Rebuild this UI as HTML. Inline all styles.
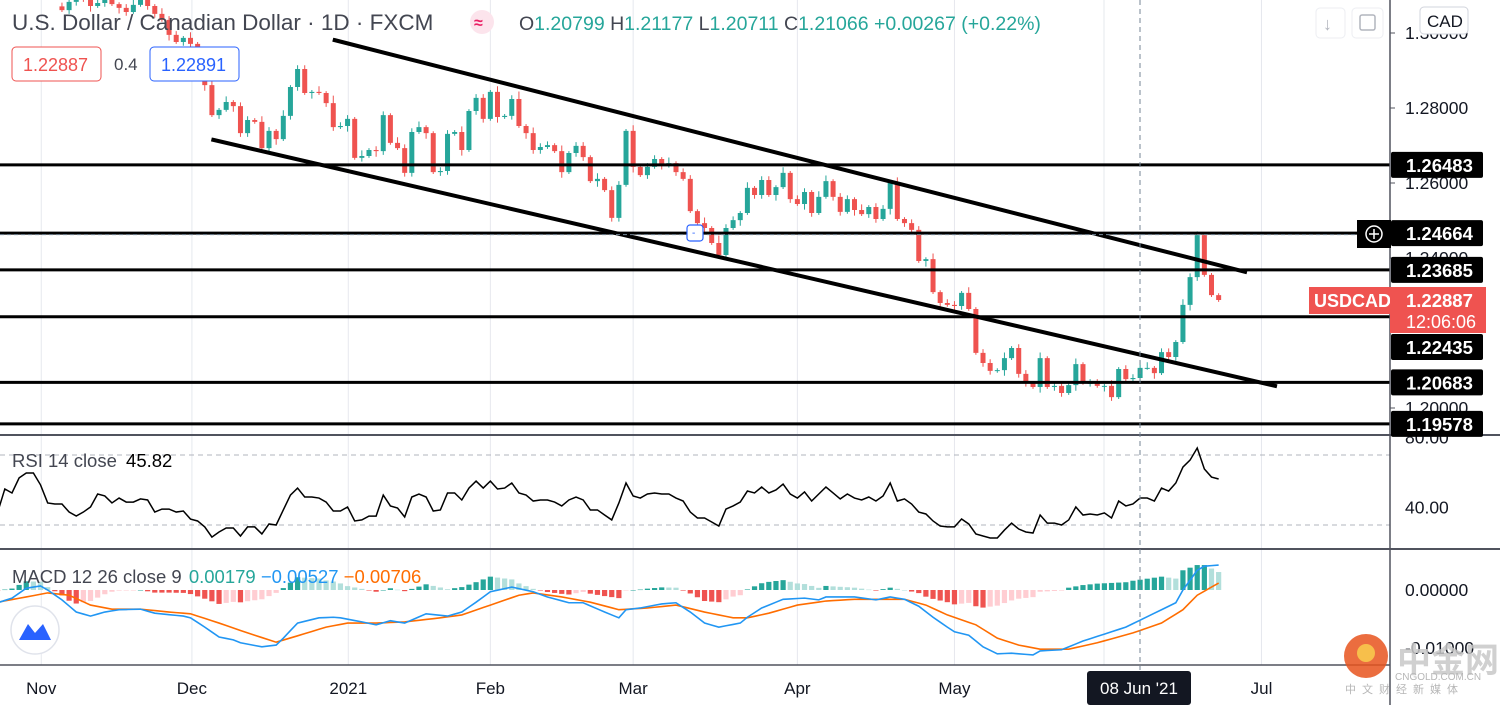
<!DOCTYPE html>
<html><head><meta charset="utf-8"><style>
html,body{margin:0;padding:0;background:#fff;width:1500px;height:705px;overflow:hidden;font-family:"Liberation Sans","Noto Sans CJK SC",sans-serif;}
svg text{font-family:"Liberation Sans","Noto Sans CJK SC",sans-serif;}
</style></head><body>
<svg id="chart" width="1500" height="705" viewBox="0 0 1500 705" xmlns="http://www.w3.org/2000/svg">
<defs><clipPath id="mainClip"><rect x="0" y="0" width="1390" height="434"/></clipPath>
<clipPath id="rsiClip"><rect x="0" y="437" width="1390" height="111"/></clipPath>
<clipPath id="macdClip"><rect x="0" y="551" width="1390" height="113"/></clipPath></defs>
<rect x="0" y="0" width="1500" height="705" fill="#fff"/>
<g id="grid"></g>
<g id="main" clip-path="url(#mainClip)"></g>
<g id="rsi" clip-path="url(#rsiClip)"></g>
<g id="macd" clip-path="url(#macdClip)"></g>
<g id="axes"></g>
<g id="overlay"></g>
</svg>
<script>
// ---- data ----
const monthLabels = ["Nov","Dec","2021","Feb","Mar","Apr","May","Jul"];
const monthIdx = [6.1,27.2,49.1,69,89,112,134,177];
const priceTicks = [1.30,1.28,1.26,1.24,1.20];
const levels = [1.26483,1.24664,1.23685,1.22435,1.20683,1.19578];
const levelLabels = ["1.26483","1.24664","1.23685","1.22435","1.20683","1.19578"];
const candleStart = 9;
const closes = [1.3061,1.3083,1.3101,1.3088,1.3072,1.3080,1.3093,1.3077,1.3067,1.3056,1.3075,1.3088,1.3072,1.3051,1.3035,1.2995,1.2976,1.2987,1.2971,1.2928,1.2861,
1.2781,1.2795,1.2816,1.2805,1.2733,1.2768,1.2763,1.2693,1.2739,1.2717,
1.2779,1.2856,1.2904,1.2840,1.2843,1.2840,1.2813,1.2749,1.2752,1.2771,
1.2667,1.2672,1.2688,1.2685,1.2781,1.2707,1.2693,1.2627,1.2736,1.2749,
1.2733,1.2629,1.2632,1.2731,1.2736,1.2688,1.2792,1.2827,1.2771,1.2843,
1.2776,1.2779,1.2824,1.2752,1.2733,1.2688,1.2696,1.2701,1.2685,1.2629,
1.2680,1.2699,1.2669,1.2605,1.2611,1.2581,1.2507,1.2595,1.2739,1.2643,
1.2621,1.2643,1.2664,1.2651,1.2653,1.2629,1.2611,1.2525,1.2493,1.2480,
1.2440,1.2408,1.2480,1.2501,1.2520,1.2587,
1.2568,1.2608,1.2568,1.2589,1.2627,1.2557,1.2544,1.2576,1.2520,1.2563,
1.2605,1.2563,1.2523,1.2557,1.2528,1.2517,1.2536,1.2504,1.2531,1.2600,
1.2504,1.2493,1.2475,1.2392,1.2397,1.2309,1.2280,1.2275,1.2272,1.2307,
1.2264,1.2147,1.2120,1.2099,1.2101,1.2133,1.2160,1.2091,1.2067,1.2056,
1.2133,1.2056,1.2059,1.2040,1.2061,1.2117,1.2067,1.2067,1.2059,1.2059,
1.2029,1.2104,1.2077,1.2080,1.2107,1.2107,1.2093,1.2149,1.2136,1.2176,
1.2275,1.2349,1.2461,1.2355,1.2301,1.2288];
const wickUp = "21312213124211322131221312213213122131422131221322311221312213124132213122131221312213122131422131221312213312213122131221312213122131221312213122131224312213221";
const wickDn = "12213121321122131221312132211231221312213121321122131221312213121322113122131221312132211231221312213121321122131221312213121321122131221312213121321122131221321";
const rsiVals = [37.4,50.6,48.3,56.9,59.7,59.7,52.9,42.6,42.0,42.0,37.4,35.1,37.4,40.3,47.7,46.6,42.6,45.4,43.1,43.1,44.9,44.3,37.4,39.1,39.1,37.4,38.0,33.4,32.3,28.9,23.1,26.0,28.3,28.3,23.7,28.9,28.9,24.9,30.6,30.0,38.6,47.1,51.1,46.0,46.0,45.4,43.1,38.0,38.0,40.3,32.3,32.9,35.1,35.1,47.1,40.9,39.7,34.6,46.0,47.7,46.0,38.0,38.6,48.3,48.3,44.3,51.1,55.1,51.1,55.1,50.6,51.1,54.0,48.3,47.1,43.7,44.3,44.3,43.1,40.9,44.3,46.0,44.3,38.6,38.6,35.7,32.9,42.6,54.0,46.6,45.4,47.7,48.3,47.7,47.7,45.4,43.7,37.4,34.0,34.0,31.7,29.4,39.1,40.9,43.1,49.4,48.3,51.7,48.3,50.0,53.4,47.7,45.4,48.9,43.7,47.7,51.7,48.3,44.9,47.7,45.4,44.3,46.0,43.7,46.6,54.0,43.7,44.9,42.0,37.4,36.3,32.3,29.4,28.9,28.9,33.4,30.6,24.9,23.7,22.6,22.6,27.1,31.1,27.7,26.0,25.4,35.7,31.1,31.1,30.0,32.9,40.3,35.7,36.3,35.7,36.9,34.0,43.7,40.9,42.0,45.4,45.4,43.7,51.1,49.4,54.0,63.1,67.1,74.0,62.0,57.4,56.3];
const rsiTicks = [80,40];
const macdIdx = [0,2,4,6,7,9,11,13,15,17,20,22,26,27,29,31,33,34,37,39,40,42,45,47,48,51,53,55,57,60,63,65,67,69,72,75,77,80,82,85,87,88,90,93,95,97,99,101,104,105,107,110,113,115,116,120,123,125,127,129,131,133,134,136,138,140,142,145,146,149,152,155,158,160,162,165,166,168,169,171];
const macdVal = [-22,-14,3,7,0,-17,-38,-45,-38,-34,-33,-40,-45,-48,-64,-81,-86,-91,-98,-95,-83,-57,-48,-47,-48,-55,-60,-53,-57,-41,-45,-38,-21,-3,5,-3,-12,-22,-22,-38,-48,-34,-31,-24,-22,-38,-57,-64,-57,-47,-31,-16,-14,-17,-12,-12,-17,-12,-16,-28,-47,-64,-72,-78,-98,-110,-109,-112,-105,-103,-88,-76,-64,-52,-40,-22,0,34,41,43];
const signalIdx = [0,4,7,10,13,16,20,24,27,31,35,39,42,46,49,53,57,62,65,69,73,75,79,83,87,91,95,99,103,105,108,112,116,120,127,130,133,137,140,143,146,150,154,159,163,166,168,171];
const signalVal = [-21,-12,-5,-9,-26,-33,-33,-38,-41,-57,-74,-90,-79,-64,-57,-57,-55,-48,-43,-26,-9,-5,-12,-21,-34,-31,-26,-38,-48,-48,-40,-26,-19,-16,-16,-26,-43,-60,-83,-95,-102,-102,-91,-74,-57,-34,-9,12];
const macdTicks = [0,-100];
const upperTrend = [[47.2,1.2981],[174.7,1.2363]];
const lowerTrend = [[30.2,1.2715],[178.9,1.2059]];

// ---- scales ----
const X0=-2.3, STEP=7.14;
const xOf = i => X0 + i*STEP;
const py = p => 108 + (1.28 - p)*3750;
const ry = v => 455 + (70 - v)*1.75;
const my = v => 590 - v*0.58;
const NS="http://www.w3.org/2000/svg";
function mk(tag, attrs, parent){const e=document.createElementNS(NS,tag);for(const k in attrs)e.setAttribute(k,attrs[k]);parent.appendChild(e);return e;}
const G=id=>document.getElementById(id);
const grid=G('grid'),main=G('main'),rsi=G('rsi'),macd=G('macd'),axes=G('axes'),ov=G('overlay');

monthIdx.forEach((m,k)=>{const x=xOf(m);const l=mk('line',{x1:x,x2:x,y1:0,y2:665,stroke:'#e6e8ee','stroke-width':1},grid);

});
[1104].forEach(x=>{const l=mk('line',{x1:x,x2:x,y1:0,y2:665,stroke:'#e6e8ee'},grid);

});

closes.forEach((c,k)=>{
  const i=candleStart+k, x=xOf(i);
  const o = k===0 ? c+0.0010 : closes[k-1];
  const up = c>=o, col = up?'#26a69a':'#ef5350';
  const hi = Math.max(o,c) + (+(wickUp[k]||'1'))*0.0005;
  const lo = Math.min(o,c) - (+(wickDn[k]||'1'))*0.0005;
  const g=mk('g',{},main);
  
  
  mk('line',{x1:x,x2:x,y1:py(hi),y2:py(lo),stroke:col,'stroke-width':1},g);
  const yt=py(Math.max(o,c)), h=Math.max(1,py(Math.min(o,c))-yt);
  mk('rect',{x:x-2.5,y:yt,width:5,height:h,fill:col},g);
});
levels.forEach((p,k)=>{const l=mk('line',{x1:0,x2:1390,y1:py(p),y2:py(p),stroke:'#000','stroke-width':3},main);

});
[[upperTrend,'upper-trendline'],[lowerTrend,'lower-trendline']].forEach(([t,n])=>{
 const l=mk('line',{x1:xOf(t[0][0]),y1:py(t[0][1]),x2:xOf(t[1][0]),y2:py(t[1][1]),stroke:'#000','stroke-width':4,'stroke-linecap':'square'},main);
 
 });
const chh=mk('line',{x1:0,x2:1390,y1:py(1.24664)+1.5,y2:py(1.24664)+1.5,stroke:'#758696','stroke-dasharray':'4 3','stroke-width':1},ov);


const chv=mk('line',{x1:1140,x2:1140,y1:0,y2:670,stroke:'#758696','stroke-dasharray':'5 4','stroke-width':1},ov);



mk('line',{x1:0,x2:1390,y1:ry(70),y2:ry(70),stroke:'#b2b5be','stroke-dasharray':'5 4'},rsi);
mk('line',{x1:0,x2:1390,y1:ry(30),y2:ry(30),stroke:'#b2b5be','stroke-dasharray':'5 4'},rsi);
const rp=mk('polyline',{points:rsiVals.map((v,i)=>xOf(i)+','+ry(v)).join(' '),fill:'none',stroke:'#000','stroke-width':1.5},rsi);



function interp(idx,val,i){if(i<=idx[0])return val[0];for(let k=1;k<idx.length;k++){if(i<=idx[k]){const t=(i-idx[k-1])/(idx[k]-idx[k-1]);return val[k-1]+t*(val[k]-val[k-1]);}}return val[val.length-1];}
let prevH=null;
for(let i=0;i<=171;i++){
  const h=interp(macdIdx,macdVal,i)-interp(signalIdx,signalVal,i);
  let col;
  if(h>=0) col=(prevH===null||h>=prevH)?'#26a69a':'#b2dfdb'; else col=(prevH===null||h<=prevH)?'#ef5350':'#ffcdd2';
  prevH=h;
  const y0=my(0), y1=my(h);
  const b=mk('rect',{x:xOf(i)-2.6,y:Math.min(y0,y1),width:5.2,height:Math.max(0.5,Math.abs(y1-y0)),fill:col},macd);
  
  
}
const mp=[],sp=[];
for(let i=0;i<=171;i++){mp.push(xOf(i)+','+my(interp(macdIdx,macdVal,i)));sp.push(xOf(i)+','+my(interp(signalIdx,signalVal,i)));}
const sl=mk('polyline',{points:sp.join(' '),fill:'none',stroke:'#ff6d00','stroke-width':1.6},macd);


const ml=mk('polyline',{points:mp.join(' '),fill:'none',stroke:'#2196f3','stroke-width':1.6},macd);



mk('line',{x1:0,x2:1500,y1:435,y2:435,stroke:'#50535e','stroke-width':2},axes);
mk('line',{x1:0,x2:1500,y1:549,y2:549,stroke:'#50535e','stroke-width':2},axes);
mk('line',{x1:0,x2:1390,y1:665,y2:665,stroke:'#50535e','stroke-width':1.5},axes);
mk('line',{x1:1390,x2:1390,y1:0,y2:705,stroke:'#50535e','stroke-width':1.5},axes);
function txt(parent,x,y,s,opts){const t=mk('text',Object.assign({x:x,y:y,'font-size':17.5,fill:'#131722'},opts||{}),parent);t.textContent=s;return t;}
priceTicks.forEach(p=>{mk('line',{x1:1390,x2:1395,y1:py(p),y2:py(p),stroke:'#50535e'},axes);
 const t=txt(axes,1405,py(p)+6,p.toFixed(5));
 
 });
rsiTicks.forEach(v=>{const t=txt(axes,1405,ry(v)+6,v.toFixed(2));
 
 });
macdTicks.forEach(v=>{const t=txt(axes,1405,my(v)+6,(v/10000).toFixed(5));
 
 });
monthLabels.forEach((m,k)=>{const t=txt(axes,xOf(monthIdx[k]),694,m,{'text-anchor':'middle','font-size':17});
 
 });
levels.forEach((p,k)=>{let y=py(p); if(k===3) y=347;
 const g=mk('g',{},axes);
 
 
 mk('rect',{x:1391,y:y-13,width:92,height:26,rx:2,fill:'#000'},g);
 txt(g,1406,y+7,levelLabels[k],{fill:'#fff','font-weight':'bold','font-size':18.5});
});
</script>
<svg width="1500" height="705" style="position:absolute;left:0;top:0" xmlns="http://www.w3.org/2000/svg">
<g>
<rect x="1357" y="220" width="34" height="28" fill="#000"/>
<circle cx="1374" cy="234" r="8" fill="none" stroke="#fff" stroke-width="1.5"/>
<line x1="1369" x2="1379" y1="234" y2="234" stroke="#fff" stroke-width="1.5"/><line x1="1374" x2="1374" y1="229" y2="239" stroke="#fff" stroke-width="1.5"/>
</g>
<g>
<rect x="1309" y="287" width="81" height="27" fill="#ef5350"/>
<text x="1314" y="307" font-size="18" font-weight="bold" fill="#fff">USDCAD</text>
<rect x="1390" y="287" width="96" height="46" fill="#ef5350"/>
<text x="1406" y="307" font-size="18.5" font-weight="bold" fill="#fff">1.22887</text>
<text x="1406" y="328" font-size="18" fill="#fff">12:06:06</text>
</g>
<rect x="687" y="225" width="16" height="16" rx="3" fill="#fff" stroke="#2962ff" stroke-width="1.2"/>
<text x="692" y="236" font-size="10" fill="#2962ff">-</text>
<g>
<text x="12" y="30" font-size="22.5" fill="#434651">U.S. Dollar / Canadian Dollar · 1D · FXCM</text>
</g>
<circle cx="482" cy="22" r="12" fill="#fce4ec"/>
<text x="474" y="28" font-size="16" font-weight="bold" fill="#e91e63">≈</text>
<text x="519" y="30" font-size="19.5" fill="#26a69a"><tspan fill="#434651">O</tspan>1.20799 <tspan fill="#434651">H</tspan>1.21177 <tspan fill="#434651">L</tspan>1.20711 <tspan fill="#434651">C</tspan>1.21066 +0.00267 (+0.22%)</text>
<g><rect x="12" y="47" width="89" height="34" rx="4" fill="#fff" stroke="#ef5350"/><text x="23" y="71" font-size="18" fill="#ef5350">1.22887</text></g>
<text x="114" y="70" font-size="17" fill="#434651">0.4</text>
<g><rect x="150" y="47" width="89" height="34" rx="4" fill="#fff" stroke="#2962ff"/><text x="161" y="71" font-size="18" fill="#2962ff">1.22891</text></g>
<g><rect x="1316" y="8" width="29" height="30" rx="4" fill="#fff" stroke="#eceef2"/><text x="1323" y="30" font-size="18" fill="#b2b5be">↓</text></g>
<g><rect x="1352" y="8" width="31" height="30" rx="4" fill="#fff" stroke="#eceef2"/><rect x="1360" y="15" width="15" height="15" rx="2" fill="none" stroke="#b2b5be" stroke-width="1.5"/></g>
<g><rect x="1420" y="7" width="48" height="27" rx="4" fill="#fff" stroke="#d1d4dc"/><text x="1427" y="27" font-size="17" fill="#131722">CAD</text></g>
<text x="12" y="467" font-size="18.5" fill="#434651">RSI 14 close <tspan fill="#000" dx="4">45.82</tspan></text>
<text x="12" y="583" font-size="18.5" fill="#434651">MACD 12 26 close 9 <tspan fill="#26a69a" dx="2">0.00179</tspan> <tspan fill="#2196f3">−0.00527</tspan> <tspan fill="#ff6d00">−0.00706</tspan></text>
<g><circle cx="35" cy="630" r="24" fill="#fff" stroke="#e0e3eb" stroke-width="1.5"/><path d="M19 640 L28 624 L35 633 L43 624 L51 640 Z" fill="#2962ff"/></g>
<g><rect x="1087" y="671" width="104" height="34" rx="3" fill="#131722"/><text x="1139" y="694" font-size="17" fill="#fff" text-anchor="middle">08 Jun '21</text></g>
<g opacity="0.85">
<circle cx="1366" cy="656" r="22" fill="#e8541e"/><circle cx="1366" cy="653" r="9" fill="#f6b42c"/>
<text x="1397" y="672" font-size="34" font-weight="bold" fill="#c8c8c8">中金网</text>
<text x="1395" y="680" font-size="10" fill="#aaa">CNGOLD.COM.CN</text>
<text x="1345" y="693" font-size="11" fill="#aaa" letter-spacing="6">中文财经新媒体</text>
</g>
</svg>
</body></html>
